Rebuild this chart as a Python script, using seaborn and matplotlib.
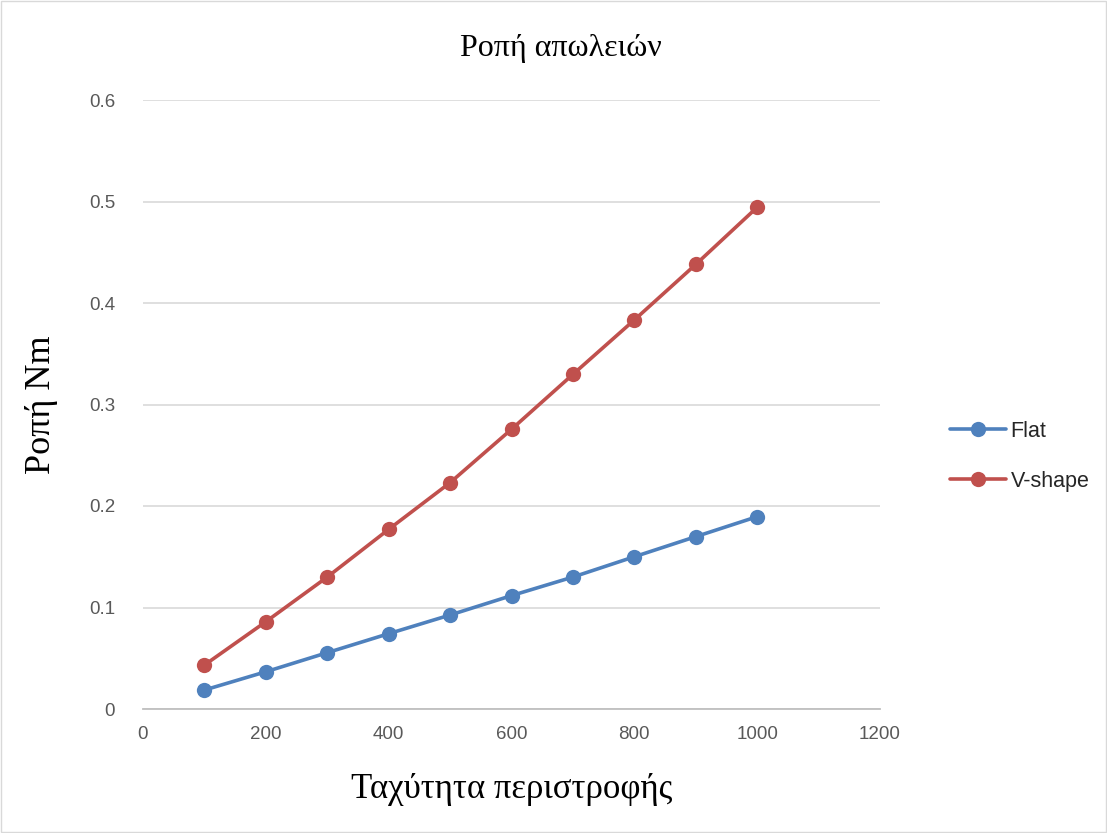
import matplotlib
matplotlib.use("Agg")
import matplotlib.pyplot as plt
import seaborn as sns
import pandas as pd
from matplotlib.patches import Rectangle
from matplotlib.lines import Line2D

speed = [100, 200, 300, 400, 500, 600, 700, 800, 900, 1000]
flat = [0.0187, 0.0367, 0.0555, 0.0742, 0.0926, 0.1117, 0.1300, 0.1500, 0.1698, 0.1895]
vshape = [0.0433, 0.0860, 0.1300, 0.1770, 0.2230, 0.2756, 0.3297, 0.3833, 0.4380, 0.4943]
series_names = ["Flat", "V-shape"]
x_ticks = [0, 200, 400, 600, 800, 1000, 1200]
y_ticks = [0, 0.1, 0.2, 0.3, 0.4, 0.5, 0.6]
y_tick_labels = ["0", "0.1", "0.2", "0.3", "0.4", "0.5", "0.6"]

df = pd.DataFrame({
    "speed": speed * 2,
    "torque": flat + vshape,
    "series": [series_names[0]] * len(speed) + [series_names[1]] * len(speed),
})

sns.set_theme(style="white")
plt.rcParams["font.family"] = ["Liberation Sans", "DejaVu Sans"]

fig = plt.figure(figsize=(11.07, 8.33), dpi=100)
ax = fig.add_axes([143 / 1107, 1 - 709 / 833, (880 - 143) / 1107, (709 - 100) / 833])

palette = {"Flat": "#4F81BD", "V-shape": "#C0504D"}
sns.lineplot(data=df, x="speed", y="torque", hue="series", palette=palette,
             marker="o", markersize=11, markeredgewidth=0, linewidth=2.6,
             ax=ax, legend=False, zorder=3)

ax.set_xlim(0, 1200)
ax.set_ylim(0, 0.6)
ax.set_xticks(x_ticks)
ax.set_yticks(y_ticks)
ax.set_yticklabels(y_tick_labels)
ax.tick_params(axis="both", length=0, labelsize=13.5, labelcolor="#595959")
ax.tick_params(axis="x", pad=12)
ax.tick_params(axis="y", pad=20)
ax.grid(axis="y", color="#D9D9D9", linewidth=1.2)
ax.grid(axis="x", visible=False)
for s in ["top", "right", "left"]:
    ax.spines[s].set_visible(False)
ax.spines["bottom"].set_color("#BFBFBF")
ax.spines["bottom"].set_linewidth(1.3)
ax.set_axisbelow(True)

serif = ["Liberation Serif", "DejaVu Serif"]
ax.set_xlabel("Ταχύτητα περιστροφής", family=serif, fontsize=25, labelpad=22, color="black")
ax.set_ylabel("Ροπή Nm", family=serif, fontsize=26, labelpad=22, color="black")
fig.text(0.507, 0.942, "Ροπή απωλειών", family=serif, fontsize=23,
         ha="center", va="center", color="black")

handles = [Line2D([0], [0], color=palette[n], marker="o", markersize=11,
                  markeredgewidth=0, linewidth=2.6) for n in series_names]
fig.legend(handles, series_names, loc="center left", bbox_to_anchor=(0.841, 0.452),
           frameon=False, fontsize=15.5, handlelength=2.6, handletextpad=0.2,
           labelspacing=1.35)

fig.patches.append(Rectangle((0.001, 0.001), 0.998, 0.998, transform=fig.transFigure,
                             fill=False, edgecolor="#D9D9D9", linewidth=1))

fig.savefig("out.png", dpi=100)
